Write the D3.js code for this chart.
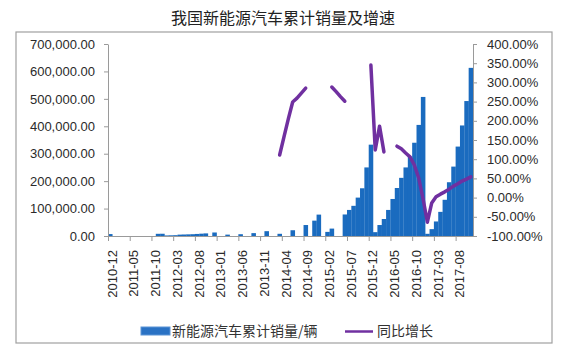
<!DOCTYPE html>
<html>
<head>
<meta charset="utf-8">
<script src="https://cdn.jsdelivr.net/npm/d3@7"></script>
<style>
  body { margin: 0; background: #fff; }
  svg { display: block; }
</style>
</head>
<body>
<script>
(function (d3) {

  'use strict'
  const w = 562
  const h = 360

  // categories: one per month, 2010-12 .. 2017-11
  const months = d3.timeMonths(new Date(2010, 11, 1), new Date(2017, 11, 1)).map(d3.timeFormat('%Y-%m'))

  const tickLabels = ['2010-12', '2011-05', '2011-10', '2012-03', '2012-08', '2013-01', '2013-06', '2013-11',
    '2014-04', '2014-09', '2015-02', '2015-07', '2015-12', '2016-05', '2016-10', '2017-03', '2017-08']

  // 新能源汽车累计销量/辆
  const sales = [
    7000,                                                                                   // 2010-12
    null, null, null, null, null, null, null, null, null, null, 8000, 8200,                  // 2011
    2000, 2500, 3000, 5000, 5500, 6000, 6500, 7500, 8500, 9500, null, 12800,                 // 2012
    null, null, 5000, null, null, 6500, null, null, 10500, null, null, 17600,                // 2013
    null, null, 8000, null, null, 21000, null, null, 40000, null, 56000, 78000,              // 2014
    null, 15000, 27000, null, null, 78500, 95000, 110000, 140000, 174000, 250000, 333000,    // 2015
    14000, 40000, 62000, 95000, 135000, 175000, 212000, 250000, 290000, 340000, 405000, 507000, // 2016
    8000, 25000, 53000, 88000, 132000, 196000, 253000, 326000, 403000, 492000, 613000        // 2017
  ]

  // 同比增长 (%)
  const growth = [
    null,                                                                                   // 2010-12
    null, null, null, null, null, null, null, null, null, null, null, null,                  // 2011
    null, null, null, null, null, null, null, null, null, null, null, null,                  // 2012
    null, null, null, null, null, null, null, null, null, null, null, null,                  // 2013
    null, null, 111, 158, 205, 249, 259, 272, 285, null, null, null,                         // 2014
    null, null, 288, 276, 263, 251, null, null, null, null, null, 345,                       // 2015
    124, 186, 119, null, null, 134, 127, 116, 106, 85, 51, -3,                               // 2016
    -64, -14, 2, 9, 15, 22, 30, 36, 43, 48, 54                                               // 2017
  ]

  const salesTicks = [0, 100000, 200000, 300000, 400000, 500000, 600000, 700000]
  const growthTicks = [-100, -50, 0, 50, 100, 150, 200, 250, 300, 350, 400]

  const data = months.map((m, i) => ({ m: m, s: sales[i], g: growth[i] }))

  const left = 108
  const right = 473
  const top = 44
  const bottom = 236

  const svg = d3.select('body')
  .append('svg')
  .attr('width', w)
  .attr('height', h)
  .style('font-family', '"Liberation Sans", Arial, sans-serif')

  svg.append('rect')
  .attr('x', 16)
  .attr('y', 32)
  .attr('width', 536)
  .attr('height', 311)
  .attr('fill', 'none')
  .attr('stroke', '#a0a0a0')
  .attr('stroke-width', 1.2)

  svg.append('text')
  .attr('x', 283)
  .attr('y', 24)
  .attr('text-anchor', 'middle')
  .attr('font-family', '"Noto Sans CJK SC", sans-serif')
  .attr('font-size', 16)
  .attr('fill', '#222')
  .text('我国新能源汽车累计销量及增速')

  const x = d3.scaleBand()
  .domain(months)
  .range([left, right])
  .padding(0)

  const xi = d3.scaleLinear()
  .domain([0, months.length])
  .range([left, right])

  const y = d3.scaleLinear()
  .domain([0, 700000])
  .range([bottom, top])

  const yr = d3.scaleLinear()
  .domain([-100, 400])
  .range([bottom, top])

  // bars
  svg.append('g')
  .selectAll('rect')
  .data(data.filter(d => d.s != null))
  .enter().append('rect')
  .attr('x', d => x(d.m))
  .attr('y', d => y(d.s))
  .attr('width', x.bandwidth() + 0.2)
  .attr('height', d => y(0) - y(d.s))
  .attr('fill', '#1a6bbf')

  // axes
  const leftAxis = svg.append('g')
  .attr('transform', 'translate(' + left + ',0)')
  .call(d3.axisLeft(y).tickValues(salesTicks).tickFormat(d3.format(',.2f')).tickSize(4).tickPadding(9).tickSizeOuter(0))

  const rightAxis = svg.append('g')
  .attr('transform', 'translate(' + right + ',0)')
  .call(d3.axisRight(yr).tickValues(growthTicks).tickFormat(d => d.toFixed(2) + '%').tickSize(4).tickPadding(10).tickSizeOuter(0))

  const bottomAxis = svg.append('g')
  .attr('transform', 'translate(0,' + bottom + ')')
  .call(d3.axisBottom(xi).tickValues(d3.range(0, months.length, 5)).tickFormat('').tickSize(5).tickSizeOuter(0))

  ;[leftAxis, rightAxis, bottomAxis].forEach(function (g) {
    g.selectAll('path, line').attr('stroke', '#9a9a9a')
    g.selectAll('text')
    .attr('fill', '#2a2a2a')
    .attr('font-size', 13)
    .attr('font-family', '"Liberation Sans", Arial, sans-serif')
  })

  svg.append('g')
  .selectAll('text')
  .data(tickLabels)
  .enter().append('text')
  .attr('transform', d => 'translate(' + (x(d) + x.bandwidth() / 2 + 2) + ',250) rotate(-90)')
  .attr('text-anchor', 'end')
  .attr('dy', '0.35em')
  .attr('font-size', 13)
  .attr('fill', '#2a2a2a')
  .text(d => d)

  // growth line
  const line = d3.line()
  .defined(d => d.g != null)
  .x(d => x(d.m) + x.bandwidth() / 2)
  .y(d => yr(d.g))

  svg.append('path')
  .datum(data)
  .attr('d', line)
  .attr('fill', 'none')
  .attr('stroke', '#7030a0')
  .attr('stroke-width', 3.5)
  .attr('stroke-linejoin', 'round')
  .attr('stroke-linecap', 'round')

  // legend
  const legend = svg.append('g')
  .attr('font-family', '"Noto Sans CJK SC", sans-serif')
  .attr('font-size', 14)
  .attr('fill', '#333')

  legend.append('rect')
  .attr('x', 141)
  .attr('y', 327)
  .attr('width', 29)
  .attr('height', 8)
  .attr('fill', '#2a72c4')
  .attr('stroke', '#5a94d6')
  .attr('stroke-width', 1)

  legend.append('text')
  .attr('x', 172)
  .attr('y', 331)
  .attr('dy', '0.35em')
  .text('新能源汽车累计销量/辆')

  legend.append('line')
  .attr('x1', 345)
  .attr('x2', 373)
  .attr('y1', 331.5)
  .attr('y2', 331.5)
  .attr('stroke', '#7030a0')
  .attr('stroke-width', 2.5)

  legend.append('text')
  .attr('x', 377)
  .attr('y', 331)
  .attr('dy', '0.35em')
  .text('同比增长')

}(d3))
</script>
</body>
</html>
